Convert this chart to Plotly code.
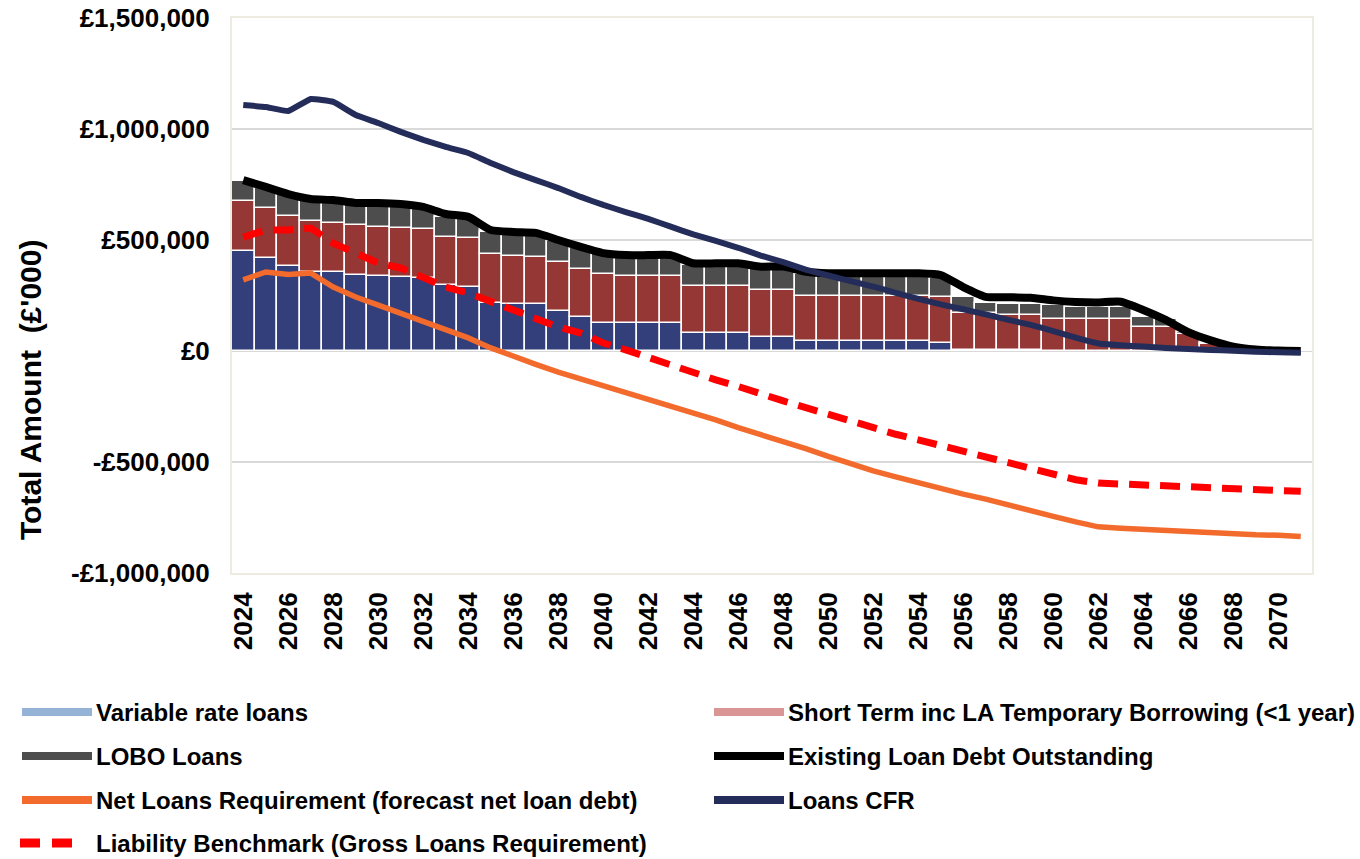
import plotly.graph_objects as go

# ---------------- data (values in £'000 as plotted) ----------------
years = list(range(2024, 2072))

fixed_loans = [450000, 419000, 383000, 356000, 356000, 342000, 338000, 333000, 329000, 297000,
               288000, 216000, 212000, 212000, 180000, 153000, 126000, 126000, 126000, 126000,
               83000, 83000, 83000, 65000, 65000, 43000, 43000, 43000, 43000, 43000,
               43000, 34000, 5000, 5000, 5000, 4000, 0, 0, 0, 0,
               0, 0, 0, 0, 0, 0, 0, 0]

market_loans = [226000, 225000, 225000, 230000, 221000, 225000, 220000, 221000, 221000, 217000,
                221000, 221000, 216000, 211000, 221000, 216000, 221000, 210000, 210000, 210000,
                208000, 208000, 208000, 208000, 208000, 207000, 207000, 207000, 207000, 207000,
                207000, 209000, 166000, 164000, 157000, 156000, 146000, 146000, 146000, 146000,
                110000, 110000, 75000, 30000, 3000, 0, 0, 0]

lobo_loans = [92000, 90000, 94000, 92000, 95000, 90000, 95000, 95000, 90000, 90000,
              85000, 100000, 100000, 100000, 95000, 95000, 90000, 92000, 92000, 92000,
              95000, 95000, 95000, 98000, 98000, 98000, 92000, 92000, 92000, 92000,
              92000, 85000, 72000, 48000, 50000, 50000, 63000, 51000, 51000, 51000,
              45000, 35000, 12000, 6000, 2000, 0, 0, 0]

variable_rate = [0] * 48
short_term = [0] * 48

existing_debt = [770000, 739000, 707000, 685000, 680000, 667000, 667000, 662000, 649000, 617000,
                 604000, 545000, 536000, 532000, 500000, 469000, 441000, 432000, 432000, 432000,
                 395000, 395000, 395000, 380000, 380000, 357000, 350000, 350000, 350000, 350000,
                 350000, 342000, 288000, 244000, 242000, 240000, 228000, 221000, 219000, 222000,
                 185000, 140000, 85000, 48000, 20000, 7000, 2000, 0]

loans_cfr = [1108000, 1099000, 1081000, 1135000, 1122000, 1063000, 1027000, 987000, 951000, 919000,
             892000, 847000, 806000, 770000, 734000, 694000, 658000, 626000, 595000, 560000,
             525000, 496000, 465000, 430000, 400000, 367000, 340000, 315000, 290000, 262000,
             235000, 210000, 188000, 165000, 140000, 118000, 90000, 60000, 34000, 26000,
             20000, 14000, 9000, 5000, 1000, -3000, -6000, -8000]

net_loans_req = [320000, 356000, 345000, 351000, 288000, 243000, 207000, 171000, 131000, 95000,
                 59000, 14000, -25000, -60000, -95000, -125000, -155000, -185000, -215000, -245000,
                 -275000, -310000, -345000, -375000, -405000, -440000, -475000, -510000, -540000, -567000,
                 -595000, -622000, -645000, -667000, -695000, -720000, -745000, -770000, -792000, -798000,
                 -804000, -810000, -815000, -816000, -822000, -828000, -830000, -836000]

liability_benchmark = [513000, 545000, 545000, 554000, 486000, 441000, 396000, 374000, 333000, 288000,
                       261000, 221000, 185000, 149000, 108000, 81000, 36000, 5000, -30000, -65000,
                       -100000, -130000, -160000, -195000, -225000, -255000, -285000, -320000, -350000, -375000,
                       -400000, -425000, -450000, -475000, -500000, -525000, -555000, -580000, -595000, -600000,
                       -604000, -608000, -612000, -615000, -620000, -625000, -628000, -632000]

y_tickvals = [-1000000, -500000, 0, 500000, 1000000, 1500000]
y_ticktext = ["-£1,000,000", "-£500,000", "£0", "£500,000", "£1,000,000", "£1,500,000"]
x_tickvals = years[::2]
x_ticktext = [str(y) for y in x_tickvals]

# ---------------- styling ----------------
FONT = "Liberation Sans, Arial, sans-serif"
C_FIXED = "#323F7A"
C_MARKET = "#953735"
C_LOBO = "#4D4D4D"
C_VAR = "#95B3D7"
C_SHORT = "#D99694"
C_BLACK = "#000000"
C_ORANGE = "#F26B2D"
C_CFR = "#242D5A"
C_RED = "#FF0000"

# body margin is removed below (post_script), so figure coords = screen coords
W, H = 1360, 859
PL, PR, PT, PB = 232, 1312, 18, 573

fig = go.Figure()

bar_line = dict(color="white", width=1.5)
for name, vals, col in [("Fixed Rate Loans", fixed_loans, C_FIXED),
                        ("Market Loans", market_loans, C_MARKET),
                        ("Variable rate loans", variable_rate, C_VAR),
                        ("Short Term inc LA Temporary Borrowing (<1 year)", short_term, C_SHORT),
                        ("LOBO Loans", lobo_loans, C_LOBO)]:
    fig.add_trace(go.Bar(x=years, y=vals, name=name, marker=dict(color=col, line=bar_line),
                         showlegend=False))

fig.add_trace(go.Scatter(x=years, y=existing_debt, name="Existing Loan Debt Outstanding",
                         mode="lines", line=dict(color=C_BLACK, width=8, shape="spline", smoothing=0.5),
                         showlegend=False))
fig.add_trace(go.Scatter(x=years, y=net_loans_req, name="Net Loans Requirement (forecast net loan debt)",
                         mode="lines", line=dict(color=C_ORANGE, width=5.5), showlegend=False))
fig.add_trace(go.Scatter(x=years, y=liability_benchmark, name="Liability Benchmark (Gross Loans Requirement)",
                         mode="lines", line=dict(color=C_RED, width=7, dash="20px,11px"), showlegend=False))
fig.add_trace(go.Scatter(x=years, y=loans_cfr, name="Loans CFR",
                         mode="lines", line=dict(color=C_CFR, width=6, shape="spline", smoothing=0.3),
                         showlegend=False))


def px_x(px):
    return (px - PL) / (PR - PL)


def px_y(py):
    return (PB - py) / (PB - PT)


# manual legend (wide line keys like the original)
legend_items = [
    ("Variable rate loans", C_VAR, "solid", 20, 712),
    ("Short Term inc LA Temporary Borrowing (<1 year)", C_SHORT, "solid", 712, 712),
    ("LOBO Loans", C_LOBO, "solid", 20, 756),
    ("Existing Loan Debt Outstanding", C_BLACK, "solid", 712, 756),
    ("Net Loans Requirement (forecast net loan debt)", C_ORANGE, "solid", 20, 800),
    ("Loans CFR", C_CFR, "solid", 712, 800),
    ("Liability Benchmark (Gross Loans Requirement)", C_RED, "dash", 20, 843),
]
shapes = []
annotations = []
for text, col, style, x0, yy in legend_items:
    if style == "dash":
        for a, b in [(20, 40), (52, 72)]:
            shapes.append(dict(type="line", xref="paper", yref="paper",
                               x0=px_x(a), x1=px_x(b), y0=px_y(yy), y1=px_y(yy),
                               line=dict(color=col, width=9)))
    else:
        shapes.append(dict(type="line", xref="paper", yref="paper",
                           x0=px_x(x0 + 2), x1=px_x(x0 + 72), y0=px_y(yy), y1=px_y(yy),
                           line=dict(color=col, width=8)))
    annotations.append(dict(text=text, xref="paper", yref="paper", x=px_x(x0 + 74), y=px_y(yy),
                            xanchor="left", yanchor="middle", showarrow=False,
                            font=dict(family=FONT, size=24, color="black", weight="bold")))

annotations.append(dict(text="Total Amount  (£'000)", xref="paper", yref="paper",
                        x=px_x(30), y=px_y(390), textangle=-90, showarrow=False,
                        xanchor="center", yanchor="middle",
                        font=dict(family=FONT, size=30, color="black", weight="bold")))

fig.update_layout(
    width=W, height=H,
    margin=dict(l=PL, r=W - PR, t=PT, b=H - PB, pad=0, autoexpand=False),
    paper_bgcolor="white", plot_bgcolor="white",
    barmode="relative", bargap=0.0,
    showlegend=False,
    shapes=shapes, annotations=annotations,
    font=dict(family=FONT, color="black"),
)
fig.update_xaxes(range=[2023.5, 2071.5], tickmode="array", tickvals=x_tickvals, ticktext=x_ticktext,
                 tickangle=-90, showgrid=False, zeroline=False, automargin=False,
                 showline=True, linecolor="#EEECE1", linewidth=2, mirror=True,
                 ticks="", ticklabelstandoff=7, ticklabeloverflow="allow",
                 tickfont=dict(family=FONT, size=26, color="black", weight="bold"))
fig.update_yaxes(range=[-1000000, 1500000], tickmode="array", tickvals=y_tickvals, ticktext=y_ticktext,
                 showgrid=True, gridcolor="#D9D9D9", gridwidth=2, zeroline=False, automargin=False,
                 showline=True, linecolor="#EEECE1", linewidth=2, mirror=True,
                 ticks="", ticklabelstandoff=15, ticklabeloverflow="allow",
                 tickfont=dict(family=FONT, size=26, color="black", weight="bold"))

fig.write_html("out.html", config={"displayModeBar": False},
               post_script="document.body.style.margin='0px';document.body.style.overflow='hidden';")
